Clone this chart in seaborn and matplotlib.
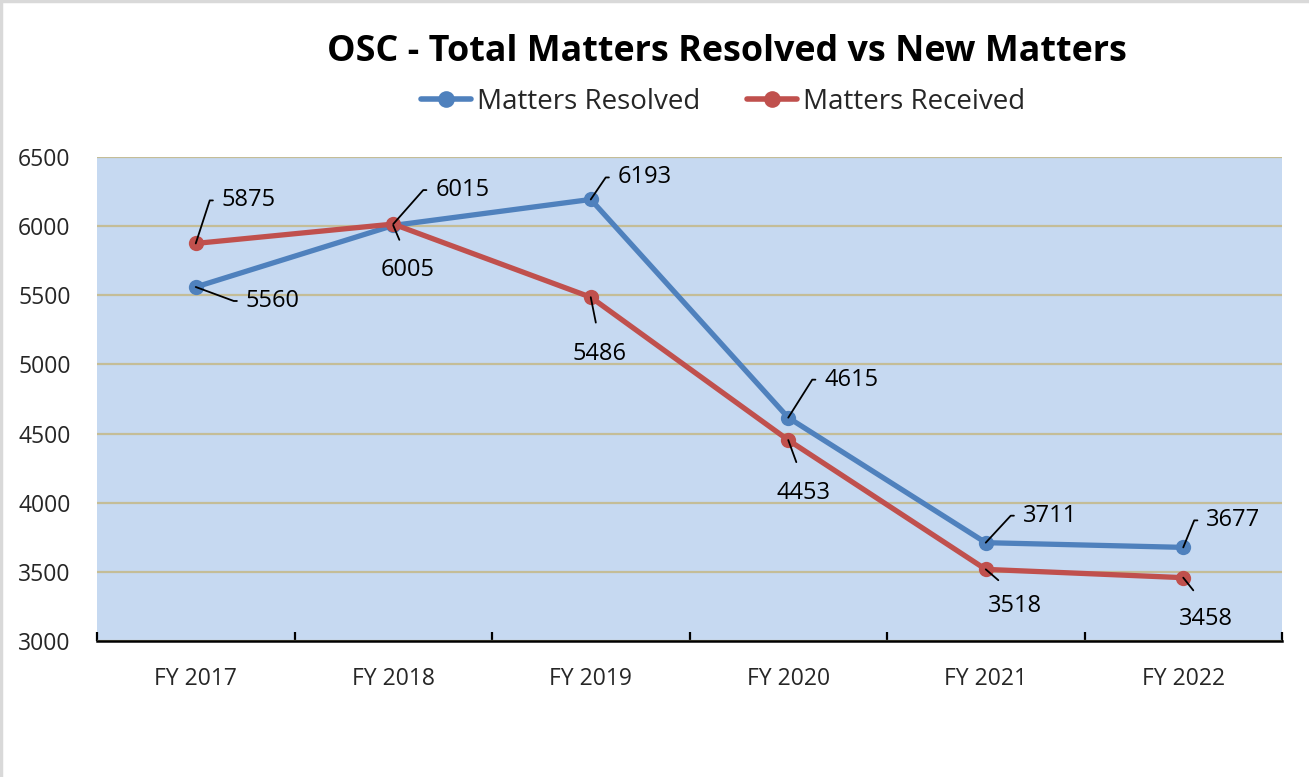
import math
import numpy as np
import pandas as pd
import matplotlib
matplotlib.use("Agg")
import matplotlib.pyplot as plt
import seaborn as sns
from matplotlib.ticker import FixedLocator

years = ['FY 2017', 'FY 2018', 'FY 2019', 'FY 2020', 'FY 2021', 'FY 2022']
resolved = [5560, 6005, 6193, 4615, 3711, 3677]
received = [5875, 6015, 5486, 4453, 3518, 3458]
series_names = ['Matters Resolved', 'Matters Received']
y_ticks = [3000, 3500, 4000, 4500, 5000, 5500, 6000, 6500]

# label placement: (dx, dy) in pixels from the point, and side of the label
resolved_lbl = [(50, -14, 'right'), (14, -33, 'below'), (27, 22, 'right'),
                (36, 38, 'right'), (37, 27, 'right'), (23, 27, 'right')]
received_lbl = [(26, 43, 'right'), (42, 34, 'right'), (9, -45, 'below'),
                (15, -41, 'below'), (29, -25, 'below'), (23, -29, 'below')]

df = pd.DataFrame({
    'year': years * 2,
    'value': resolved + received,
    'series': [series_names[0]] * len(years) + [series_names[1]] * len(years),
})

sns.set_theme(style='white')
plt.rcParams['font.family'] = ['Open Sans', 'DejaVu Sans']

blue = '#4F81BD'
red = '#C0504D'

fig = plt.figure(figsize=(13.09, 7.77), dpi=100)
ax = fig.add_axes([97 / 1309, 1 - 641 / 777, (1282 - 97) / 1309, (641 - 157) / 777])
ax.set_facecolor('#C6D9F1')

sns.lineplot(data=df, x='year', y='value', hue='series', palette=[blue, red],
             marker='o', markersize=11, markeredgewidth=0, linewidth=3.8,
             sort=False, ax=ax, legend=False, zorder=3)

ax.set_xlim(-0.5, len(years) - 0.5)
ax.set_ylim(3000, 6500)
ax.set_yticks(y_ticks)
ax.set_xlabel('')
ax.set_ylabel('')
ax.yaxis.grid(True, color='#C4BD97', linewidth=1.6)
ax.xaxis.grid(False)
ax.set_axisbelow(True)
for s in ['top', 'right', 'left']:
    ax.spines[s].set_visible(False)
ax.spines['bottom'].set_color('black')
ax.spines['bottom'].set_linewidth(1.8)
ax.spines['bottom'].set_zorder(4)

# category boundary ticks pointing up into the plot
ax.xaxis.set_minor_locator(FixedLocator(np.arange(-0.5, len(years), 1.0)))
ax.tick_params(axis='x', which='minor', direction='in', length=6.5, width=1.6,
               color='black', bottom=True)
ax.tick_params(axis='x', which='major', length=0, pad=19, labelsize=16.5)
ax.tick_params(axis='y', length=0, pad=19, labelsize=16.5)


def add_labels(vals, specs):
    for i, (v, (dx, dy, side)) in enumerate(zip(vals, specs)):
        if side == 'right':
            ang = math.degrees(math.atan2(dy, dx - 12))
            ax.annotate(f'{v}', xy=(i, v), xytext=(dx, dy), textcoords='offset pixels',
                        ha='left', va='center', fontsize=17, color='black', zorder=5,
                        arrowprops=dict(arrowstyle='-', color='black', lw=1.3,
                                        shrinkA=4, shrinkB=0, relpos=(0, 0.5),
                                        connectionstyle=f'angle,angleA=0,angleB={ang},rad=0'))
        else:
            ax.annotate(f'{v}', xy=(i, v), xytext=(dx, dy), textcoords='offset pixels',
                        ha='center', va='top', fontsize=17, color='black', zorder=5,
                        arrowprops=dict(arrowstyle='-', color='black', lw=1.3,
                                        shrinkA=12, shrinkB=0, relpos=(0.5, 1)))


add_labels(resolved, resolved_lbl)
add_labels(received, received_lbl)

fig.text(727 / 1309, 1 - 52 / 777, 'OSC - Total Matters Resolved vs New Matters',
         ha='center', va='center', fontsize=25.8, fontweight='bold', color='black')

handles = [plt.Line2D([], [], color=c, lw=4, marker='o', markersize=12, markeredgewidth=0)
           for c in [blue, red]]
fig.legend(handles, series_names, loc='center', bbox_to_anchor=(723 / 1309, 1 - 102 / 777),
           ncol=2, frameon=False, fontsize=20, handlelength=1.8, handletextpad=0.2,
           columnspacing=1.7)

# light grey frame on top and left edges only
fig.add_artist(plt.Line2D([0.001, 0.001], [0, 1], transform=fig.transFigure,
                          color='#D9D9D9', linewidth=2.5))
fig.add_artist(plt.Line2D([0, 1], [0.999, 0.999], transform=fig.transFigure,
                          color='#D9D9D9', linewidth=2.5))

fig.savefig('out.png', dpi=100, facecolor='white')
